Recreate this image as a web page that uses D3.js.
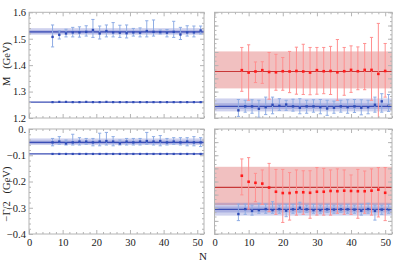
<!DOCTYPE html>
<html><head><meta charset="utf-8">
<script src="https://cdn.jsdelivr.net/npm/d3@7"></script>
<style>
body{margin:0;background:#fff;}
text{font-family:"Liberation Serif","DejaVu Serif",serif;}
</style></head><body>
<svg id="chart" width="399" height="265"></svg>
<script>
// N values of the two families of points
var nOdd = [7,9,11,13,15,17,19,21,23,25,27,29,31,33,35,37,39,41,43,45,47,49,51];
var nEven = [8,10,12,14,16,18,20,22,24,26,28,30,32,34,36,38,40,42,44,46,48,50];

// top left: upper mass state
var mUpVal = [1.507,1.515,1.520,1.524,1.524,1.526,1.533,1.520,1.529,1.524,1.523,1.521,1.524,1.523,1.529,1.526,1.525,1.523,1.526,1.516,1.524,1.524,1.531];
var mUpHi  = [1.552,1.530,1.536,1.543,1.545,1.549,1.573,1.548,1.552,1.561,1.551,1.552,1.539,1.541,1.568,1.571,1.533,1.535,1.566,1.543,1.549,1.548,1.548];
var mUpLo  = [1.469,1.499,1.507,1.507,1.506,1.510,1.505,1.499,1.507,1.507,1.505,1.503,1.510,1.507,1.507,1.510,1.518,1.507,1.505,1.497,1.510,1.507,1.518];
// top left: lower mass state (errors too small to see)
var mLowVal = [1.260,1.261,1.261,1.260,1.260,1.261,1.260,1.260,1.261,1.260,1.260,1.260,1.260,1.260,1.260,1.260,1.260,1.260,1.260,1.260,1.260,1.260,1.260];

// top right: red and blue
var mRedVal = [1.381,1.372,1.376,1.381,1.374,1.373,1.377,1.376,1.378,1.376,1.372,1.381,1.377,1.378,1.373,1.377,1.382,1.377,1.382,1.382,1.367,1.378];
var mRedHi  = [1.467,1.477,1.412,1.413,1.448,1.441,1.429,1.452,1.468,1.479,1.467,1.467,1.467,1.471,1.497,1.467,1.473,1.469,1.482,1.505,1.558,1.482];
var mRedLo  = [1.301,1.267,1.334,1.331,1.271,1.305,1.305,1.296,1.290,1.289,1.288,1.290,1.292,1.289,1.267,1.286,1.297,1.307,1.307,1.267,1.190,1.279];
var mBlueVal = [1.229,1.244,1.244,1.235,1.241,1.250,1.246,1.251,1.244,1.239,1.244,1.244,1.241,1.236,1.239,1.244,1.241,1.244,1.239,1.241,1.250,1.263,1.246];
var mBlueHi  = [1.270,1.267,1.269,1.267,1.279,1.279,1.273,1.267,1.271,1.273,1.267,1.269,1.270,1.267,1.264,1.267,1.269,1.270,1.269,1.267,1.279,1.292,1.289];
var mBlueLo  = [1.206,1.222,1.218,1.203,1.213,1.216,1.229,1.229,1.226,1.216,1.218,1.222,1.216,1.210,1.218,1.222,1.218,1.221,1.212,1.216,1.222,1.222,1.225];

// bottom left: -Gamma/2
var gUpVal = [-0.051,-0.048,-0.055,-0.051,-0.048,-0.048,-0.051,-0.048,-0.046,-0.048,-0.055,-0.048,-0.051,-0.048,-0.046,-0.048,-0.046,-0.051,-0.048,-0.051,-0.048,-0.051,-0.051];
var gUpHi  = [-0.036,-0.029,-0.042,-0.020,-0.033,-0.036,-0.036,-0.016,-0.013,-0.029,-0.042,-0.036,-0.036,-0.036,-0.013,-0.029,-0.025,-0.036,-0.033,-0.033,-0.033,-0.029,-0.033];
var gUpLo  = [-0.064,-0.058,-0.061,-0.061,-0.061,-0.058,-0.064,-0.064,-0.061,-0.064,-0.061,-0.061,-0.061,-0.061,-0.058,-0.061,-0.064,-0.061,-0.058,-0.061,-0.064,-0.064,-0.067];
var gLowVal = [-0.095,-0.095,-0.095,-0.095,-0.095,-0.095,-0.095,-0.095,-0.095,-0.095,-0.095,-0.095,-0.095,-0.095,-0.095,-0.095,-0.095,-0.095,-0.095,-0.095,-0.095,-0.095,-0.095];

// bottom right
var gRedVal = [-0.178,-0.201,-0.205,-0.208,-0.223,-0.239,-0.244,-0.244,-0.241,-0.241,-0.243,-0.239,-0.239,-0.236,-0.237,-0.235,-0.236,-0.237,-0.237,-0.235,-0.231,-0.243];
var gRedHi  = [-0.114,-0.109,-0.169,-0.156,-0.131,-0.154,-0.154,-0.166,-0.156,-0.159,-0.159,-0.147,-0.150,-0.156,-0.152,-0.156,-0.175,-0.154,-0.160,-0.152,-0.147,-0.147];
var gRedLo  = [-0.251,-0.305,-0.277,-0.287,-0.315,-0.325,-0.356,-0.347,-0.328,-0.325,-0.340,-0.328,-0.328,-0.328,-0.321,-0.325,-0.325,-0.340,-0.321,-0.328,-0.335,-0.349];
var gBlueVal = [-0.324,-0.305,-0.312,-0.309,-0.305,-0.309,-0.305,-0.311,-0.306,-0.300,-0.306,-0.309,-0.309,-0.306,-0.307,-0.306,-0.306,-0.307,-0.311,-0.305,-0.312,-0.307,-0.306];
var gBlueHi  = [-0.286,-0.286,-0.290,-0.283,-0.286,-0.277,-0.290,-0.287,-0.287,-0.279,-0.290,-0.287,-0.290,-0.287,-0.290,-0.290,-0.287,-0.290,-0.287,-0.283,-0.290,-0.290,-0.287];
var gBlueLo  = [-0.349,-0.325,-0.328,-0.321,-0.321,-0.321,-0.321,-0.334,-0.321,-0.317,-0.317,-0.321,-0.321,-0.317,-0.321,-0.317,-0.321,-0.321,-0.328,-0.321,-0.347,-0.325,-0.321];

// fitted results: [lo, hi] bands and central lines
var bandsTL = [{lo:1.515, hi:1.540, c:"blue"}, {lo:1.520, hi:1.532, c:"blue"}];
var linesTL = [{v:1.526, c:"blue"}, {v:1.260, c:"blue"}];
var bandsTR = [{lo:1.312, hi:1.452, c:"red"}, {lo:1.225, hi:1.274, c:"blue"}, {lo:1.234, hi:1.256, c:"blue"}];
var linesTR = [{v:1.376, c:"red"}, {v:1.244, c:"blue"}];
var bandsBL = [{lo:-0.061, hi:-0.036, c:"blue"}, {lo:-0.057, hi:-0.044, c:"blue"}];
var linesBL = [{v:-0.051, c:"blue"}, {v:-0.095, c:"blue"}];
var bandsBR = [{lo:-0.290, hi:-0.144, c:"red"}, {lo:-0.330, hi:-0.281, c:"blue"}, {lo:-0.318, hi:-0.295, c:"blue"}];
var linesBR = [{v:-0.222, c:"red"}, {v:-0.306, c:"blue"}];

var xTicks = [0,10,20,30,40,50];

var col = {
    blue: {band:"rgba(70,80,190,0.26)", line:"#3a4db5", pt:"#2f4cb8", bar:"#8eacE4"},
    red:  {band:"rgba(215,70,70,0.34)", line:"#c83838", pt:"#ff1a1a", bar:"#ff9090"}
};

var svg = d3.select("#chart");
var frameCol = "#b4b4b4";

function zip(ns, v, hi, lo) {
    return ns.map(function (n, i) { return {n:n, v:v[i], hi:hi ? hi[i] : null, lo:lo ? lo[i] : null}; });
}

function drawPanel(p) {
    var x = d3.scaleLinear().domain([0, 52]).range([p.left, p.right]);
    var y = d3.scaleLinear().domain(p.yDomain).range([p.bottom, p.top]);
    var g = svg.append("g");
    var id = "clip" + p.name;
    svg.append("clipPath").attr("id", id).append("rect")
        .attr("x", p.left).attr("y", p.top)
        .attr("width", p.right - p.left).attr("height", p.bottom - p.top);
    var inner = g.append("g").attr("clip-path", "url(#" + id + ")");

    // bands and lines
    inner.selectAll(".band").data(p.bands).enter().append("rect")
        .attr("x", p.left).attr("width", p.right - p.left)
        .attr("y", function (d) { return y(d.hi); })
        .attr("height", function (d) { return y(d.lo) - y(d.hi); })
        .attr("fill", function (d) { return col[d.c].band; });
    inner.selectAll(".hline").data(p.lines).enter().append("line")
        .attr("x1", p.left).attr("x2", p.right)
        .attr("y1", function (d) { return y(d.v); })
        .attr("y2", function (d) { return y(d.v); })
        .attr("stroke", function (d) { return col[d.c].line; })
        .attr("stroke-width", 1.2);

    // points with error bars
    p.series.forEach(function (s) {
        var c = col[s.c];
        var pts = inner.append("g").selectAll("g").data(s.data).enter().append("g");
        pts.filter(function (d) { return d.hi !== null; }).each(function (d) {
            var e = d3.select(this);
            var xx = x(d.n);
            e.append("line").attr("x1", xx).attr("x2", xx)
                .attr("y1", y(d.hi)).attr("y2", y(d.lo))
                .attr("stroke", c.bar).attr("stroke-width", 1);
            [d.hi, d.lo].forEach(function (v) {
                e.append("line").attr("x1", xx - 1.6).attr("x2", xx + 1.6)
                    .attr("y1", y(v)).attr("y2", y(v))
                    .attr("stroke", c.bar).attr("stroke-width", 1);
            });
        });
        pts.append("rect")
            .attr("x", function (d) { return x(d.n) - s.size / 2; })
            .attr("y", function (d) { return y(d.v) - s.size / 2; })
            .attr("width", s.size).attr("height", s.size)
            .attr("fill", c.pt);
    });

    // frame
    g.append("rect").attr("x", p.left).attr("y", p.top)
        .attr("width", p.right - p.left).attr("height", p.bottom - p.top)
        .attr("fill", "none").attr("stroke", frameCol).attr("stroke-width", 1);

    function styleAxis(a) {
        a.select(".domain").remove();
        a.selectAll("line").attr("stroke", frameCol);
        a.selectAll("text").attr("fill", "#222").style("font-size", "10.5px")
            .style("font-family", "'Liberation Serif','DejaVu Serif',serif");
    }
    var fmtY = function (d) { return Math.abs(d) < 1e-9 ? "0." : d3.format(".1f")(d); };

    // y ticks on both sides
    var yMaj = p.yMajor, yMin = p.yMinor;
    var axL = g.append("g").attr("transform", "translate(" + p.left + ",0)")
        .call(d3.axisLeft(y).tickValues(yMaj).tickSize(-4).tickPadding(3)
            .tickFormat(p.yLabels ? fmtY : ""));
    styleAxis(axL);
    styleAxis(g.append("g").attr("transform", "translate(" + p.left + ",0)")
        .call(d3.axisLeft(y).tickValues(yMin).tickSize(-2).tickFormat("")));
    styleAxis(g.append("g").attr("transform", "translate(" + p.right + ",0)")
        .call(d3.axisRight(y).tickValues(yMaj).tickSize(-4).tickFormat("")));
    styleAxis(g.append("g").attr("transform", "translate(" + p.right + ",0)")
        .call(d3.axisRight(y).tickValues(yMin).tickSize(-2).tickFormat("")));

    // x ticks top and bottom
    var xMin = d3.range(0, 53, 2).filter(function (v) { return v % 10 !== 0; });
    var axB = g.append("g").attr("transform", "translate(0," + p.bottom + ")")
        .call(d3.axisBottom(x).tickValues(xTicks).tickSize(-4).tickPadding(5)
            .tickFormat(p.xLabels ? d3.format("d") : ""));
    styleAxis(axB);
    styleAxis(g.append("g").attr("transform", "translate(0," + p.bottom + ")")
        .call(d3.axisBottom(x).tickValues(xMin).tickSize(-2).tickFormat("")));
    styleAxis(g.append("g").attr("transform", "translate(0," + p.top + ")")
        .call(d3.axisTop(x).tickValues(xTicks).tickSize(-4).tickFormat("")));
    styleAxis(g.append("g").attr("transform", "translate(0," + p.top + ")")
        .call(d3.axisTop(x).tickValues(xMin).tickSize(-2).tickFormat("")));
}

var leftX = [29, 204], rightX = [214.5, 392];
var topY = [12.3, 118], botY = [129, 234];

var mMajor = [1.2,1.3,1.4,1.5,1.6];
var mMinor = d3.range(1.22, 1.6, 0.02).filter(function (v) { return Math.abs(v * 10 - Math.round(v * 10)) > 1e-6; });
var gMajor = [-0.4,-0.3,-0.2,-0.1,0];
var gMinor = d3.range(-0.38, 0, 0.02).filter(function (v) { return Math.abs(v * 10 - Math.round(v * 10)) > 1e-6; });
var mMajorR = d3.range(1.2, 1.6001, 0.05);
var mMinorR = d3.range(1.2, 1.6, 0.05 / 3);
var gMajorR = d3.range(-0.4, 0.0001, 0.05);
var gMinorR = d3.range(-0.4, 0, 0.05 / 3);

drawPanel({name:"tl", left:leftX[0], right:leftX[1], top:topY[0], bottom:topY[1],
    yDomain:[1.2, 1.6], yMajor:mMajor, yMinor:mMinor, yLabels:true, xLabels:false,
    bands:bandsTL, lines:linesTL,
    series:[{c:"blue", size:2.4, data:zip(nOdd, mUpVal, mUpHi, mUpLo)},
            {c:"blue", size:2.2, data:zip(nOdd, mLowVal)}]});
drawPanel({name:"tr", left:rightX[0], right:rightX[1], top:topY[0], bottom:topY[1],
    yDomain:[1.2, 1.6], yMajor:mMajorR, yMinor:mMinorR, yLabels:false, xLabels:false,
    bands:bandsTR, lines:linesTR,
    series:[{c:"red", size:2.6, data:zip(nEven, mRedVal, mRedHi, mRedLo)},
            {c:"blue", size:2.4, data:zip(nOdd, mBlueVal, mBlueHi, mBlueLo)}]});
drawPanel({name:"bl", left:leftX[0], right:leftX[1], top:botY[0], bottom:botY[1],
    yDomain:[-0.4, 0], yMajor:gMajor, yMinor:gMinor, yLabels:true, xLabels:true,
    bands:bandsBL, lines:linesBL,
    series:[{c:"blue", size:2.4, data:zip(nOdd, gUpVal, gUpHi, gUpLo)},
            {c:"blue", size:2.2, data:zip(nOdd, gLowVal)}]});
drawPanel({name:"br", left:rightX[0], right:rightX[1], top:botY[0], bottom:botY[1],
    yDomain:[-0.4, 0], yMajor:gMajorR, yMinor:gMinorR, yLabels:false, xLabels:true,
    bands:bandsBR, lines:linesBR,
    series:[{c:"red", size:2.6, data:zip(nEven, gRedVal, gRedHi, gRedLo)},
            {c:"blue", size:2.4, data:zip(nOdd, gBlueVal, gBlueHi, gBlueLo)}]});

// axis titles
svg.append("text").attr("transform", "translate(10,64) rotate(-90)")
    .attr("text-anchor", "middle").style("font-size", "10.5px").attr("fill", "#222")
    .attr("xml:space", "preserve").text("M   (GeV)");
svg.append("text").attr("transform", "translate(10,194) rotate(-90)")
    .attr("text-anchor", "middle").style("font-size", "10.5px").attr("fill", "#222")
    .attr("xml:space", "preserve").text("\u2212\u0393/2   (GeV)");
svg.append("text").attr("x", 203).attr("y", 260)
    .attr("text-anchor", "middle").style("font-size", "11px").attr("fill", "#222")
    .text("N");
</script>
</body></html>
